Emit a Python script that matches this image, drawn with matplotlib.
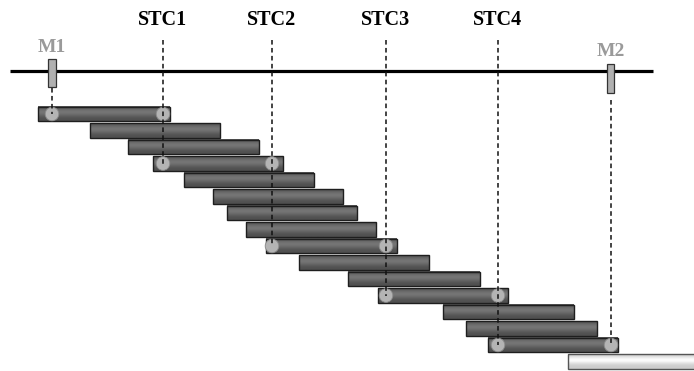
import numpy as np
import matplotlib
matplotlib.use('Agg')
from matplotlib import pyplot as plt
from matplotlib.patches import Rectangle, Circle

# bars (one per row, top to bottom), in image units
bar_start = [38, 90, 128, 153, 184, 213, 227, 246, 266, 299, 348, 378, 443, 466, 488]
bar_end = [170, 220, 259, 283, 314, 343, 357, 376, 397, 429, 480, 508, 574, 597, 618]
white_start, white_end = 568, 700

# markers along the line
marker_names = ['M1', 'M2']
marker_x = [52, 611]
stc_names = ['STC1', 'STC2', 'STC3', 'STC4']
stc_x = [163, 272, 386, 498]
# rows where the circles sit
circle_rows = [0, 3, 8, 11, 14]

row_y0, row_dy, bar_h = 114, 16.5, 14.5

def row_y(i):
    return row_y0 + row_dy * i

def cyl_bar(ax, x0, x1, y, h, dark=True):
    # fake cylinder shading with a vertical gradient
    t = np.linspace(0, 1, 32)
    if dark:
        g = 0.31 + 0.15 * np.exp(-((t - 0.4) / 0.3) ** 2)
        edge = '#1e1e1e'
    else:
        g = 0.80 + 0.19 * np.exp(-((t - 0.4) / 0.25) ** 2)
        edge = '#555555'
    img = np.repeat(g[:, None], 2, axis=1)
    ax.imshow(img, cmap='gray', vmin=0, vmax=1, aspect='auto',
              extent=(x0, x1, y + h / 2, y - h / 2), zorder=2,
              interpolation='bilinear')
    ax.add_patch(Rectangle((x0, y - h / 2), x1 - x0, h, fill=False,
                           edgecolor=edge, lw=1.0, zorder=3))

fig = plt.figure(figsize=(6.94, 3.71), dpi=100)
ax = fig.add_axes([0, 0, 1, 1])
ax.set_xlim(0, 694)
ax.set_ylim(371, 0)
ax.axis('off')

# main line
ax.plot([10, 653], [71, 71], color='black', lw=2.3, zorder=4, solid_capstyle='butt')

for i, (a, b) in enumerate(zip(bar_start, bar_end)):
    cyl_bar(ax, a, b, row_y(i), bar_h)
cyl_bar(ax, white_start, white_end, row_y(len(bar_start)), bar_h, dark=False)

# circles at the overlaps
all_x = [marker_x[0]] + stc_x + [marker_x[1]]
for k, r in enumerate(circle_rows):
    for x in (all_x[k], all_x[k + 1]):
        ax.add_patch(Circle((x, row_y(r)), 6.8, facecolor='#b4b4b4',
                            edgecolor='#8a8a8a', lw=0.6, zorder=5))

# dashed lines
dash = dict(color='#111111', lw=1.1, ls=(0, (3, 2.2)), zorder=6)
for k, x in enumerate(stc_x):
    ax.plot([x, x], [40, row_y(circle_rows[k + 1])], **dash)
ax.plot([marker_x[0]] * 2, [88, row_y(circle_rows[0])], **dash)
ax.plot([marker_x[1]] * 2, [100, row_y(circle_rows[-1])], **dash)

# marker rectangles
ax.add_patch(Rectangle((marker_x[0] - 4, 59), 8, 28, facecolor='#b0b0b0',
                       edgecolor='#333333', lw=0.9, zorder=7))
ax.add_patch(Rectangle((marker_x[1] - 3.5, 64), 7, 29, facecolor='#b0b0b0',
                       edgecolor='#333333', lw=0.9, zorder=7))

# labels
for name, x in zip(stc_names, stc_x):
    ax.text(x, 20, name, ha='center', va='center', fontsize=14.5,
            fontweight='bold', family='Liberation Serif', color='black')
ax.text(marker_x[0], 47, marker_names[0], ha='center', va='center', fontsize=14,
        fontweight='bold', family='Liberation Serif', color='#9a9a9a')
ax.text(marker_x[1], 52, marker_names[1], ha='center', va='center', fontsize=14,
        fontweight='bold', family='Liberation Serif', color='#9a9a9a')

fig.savefig('out.png', dpi=100)
